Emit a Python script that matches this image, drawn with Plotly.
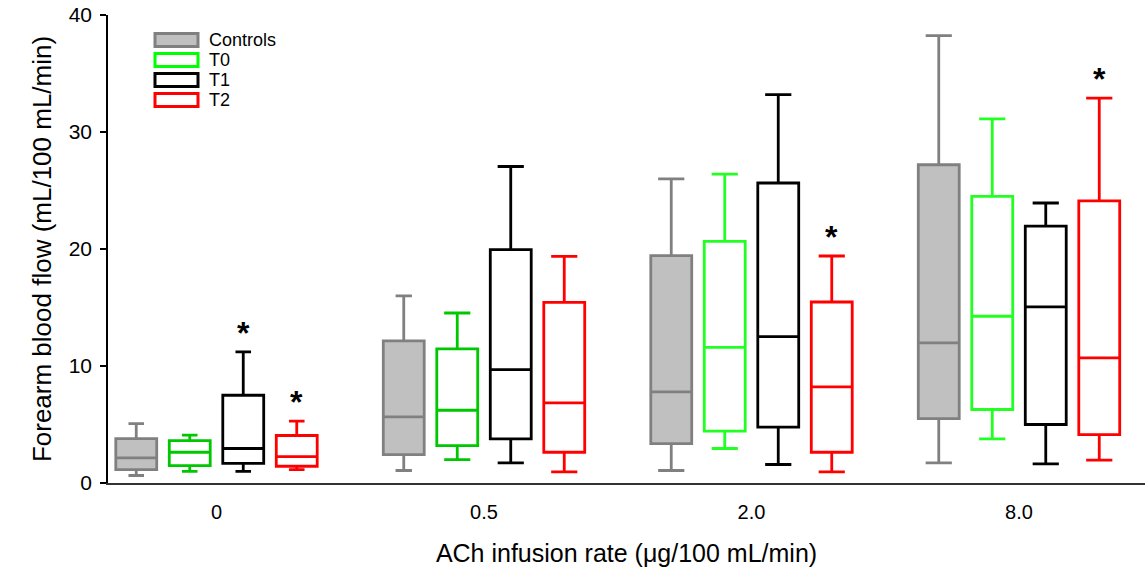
import plotly.graph_objects as go

# ACh infusion rates (x categories) and groups
rates = ["0", "0.5", "2.0", "8.0"]
groups = ["Controls", "T0", "T1", "T2"]

# Box statistics per group, one value per infusion rate
controls_low = [0.64, 1.07, 1.07, 1.72]
controls_q1 = [1.15, 2.43, 3.37, 5.51]
controls_med = [2.15, 5.65, 7.79, 11.97]
controls_q3 = [3.80, 12.14, 19.43, 27.20]
controls_high = [5.08, 16.00, 26.00, 38.24]

t0_low = [1.00, 2.00, 2.95, 3.77]
t0_q1 = [1.49, 3.20, 4.43, 6.28]
t0_med = [2.63, 6.22, 11.60, 14.25]
t0_q3 = [3.63, 11.46, 20.65, 24.50]
t0_high = [4.10, 14.53, 26.40, 31.13]

t1_low = [1.00, 1.72, 1.58, 1.64]
t1_q1 = [1.67, 3.77, 4.77, 5.00]
t1_med = [2.95, 9.69, 12.51, 15.05]
t1_q3 = [7.50, 19.94, 25.64, 21.96]
t1_high = [11.20, 27.05, 33.20, 23.93]

t2_low = [1.15, 0.95, 0.95, 1.95]
t2_q1 = [1.43, 2.63, 2.63, 4.14]
t2_med = [2.26, 6.85, 8.21, 10.69]
t2_q3 = [4.06, 15.44, 15.47, 24.12]
t2_high = [5.28, 19.37, 19.40, 32.90]

# Significance markers (*) per group and rate
t1_sig = [True, False, False, False]
t2_sig = [True, False, True, True]

stats = {
    "Controls": (controls_low, controls_q1, controls_med, controls_q3, controls_high),
    "T0": (t0_low, t0_q1, t0_med, t0_q3, t0_high),
    "T1": (t1_low, t1_q1, t1_med, t1_q3, t1_high),
    "T2": (t2_low, t2_q1, t2_med, t2_q3, t2_high),
}
sig = {"Controls": [False] * 4, "T0": [False] * 4, "T1": t1_sig, "T2": t2_sig}

line_colors = {
    "Controls": ["#808080"] * 4,
    "T0": ["#00C800", "#00C800", "#22FF22", "#22FF22"],
    "T1": ["#000000"] * 4,
    "T2": ["#FF0000"] * 4,
}
fill_colors = {"Controls": "#C0C0C0", "T0": "#FFFFFF", "T1": "#FFFFFF", "T2": "#FFFFFF"}
legend_line = {"Controls": "#808080", "T0": "#00FF00", "T1": "#000000", "T2": "#FF0000"}

offsets = [-0.3, -0.1, 0.1, 0.3]
box_w = 0.153
cap_ratio = [
    [0.38, 0.38, 0.38, 0.38],
    [0.40, 0.64, 0.64, 0.64],
    [0.64, 0.64, 0.64, 0.64],
    [0.64, 0.64, 0.64, 0.64],
]

FONT = "Liberation Sans, Arial, sans-serif"

fig = go.Figure()
annotations = []
for gi, g in enumerate(groups):
    low, q1, med, q3, high = stats[g]
    for ri in range(len(rates)):
        xpos = ri + offsets[gi]
        fig.add_trace(go.Box(
            x=[xpos], lowerfence=[low[ri]], q1=[q1[ri]], median=[med[ri]],
            q3=[q3[ri]], upperfence=[high[ri]],
            width=box_w, whiskerwidth=cap_ratio[ri][gi],
            fillcolor=fill_colors[g],
            line=dict(color=line_colors[g][ri], width=2.8),
            boxpoints=False, showlegend=False, hoverinfo="skip", name=g,
        ))
        if sig[g][ri]:
            annotations.append(dict(
                x=xpos, y=high[ri] + 2.3, xref="x", yref="y", text="<b>*</b>",
                showarrow=False, font=dict(family=FONT, size=32, color="black"),
                yshift=-8,
            ))

# Layout geometry in pixels
W, H = 1145, 571
L, R, T, B = 108, 0, 15, 88
pw, ph = W - L - R, H - T - B


def px_x(p):
    return (p - L) / pw


def px_y(p):
    return (H - B - p) / ph


# Legend drawn as outlined rectangles with labels
shapes = []
for i, g in enumerate(groups):
    cy = 40 + 20 * i
    shapes.append(dict(
        type="rect", xref="paper", yref="paper",
        x0=px_x(155), x1=px_x(198), y0=px_y(cy - 6.5), y1=px_y(cy + 6.5),
        line=dict(color=legend_line[g], width=3), fillcolor=fill_colors[g],
    ))
    annotations.append(dict(
        x=px_x(207), y=px_y(cy), xref="paper", yref="paper", text=g,
        xanchor="left", yanchor="middle", showarrow=False,
        font=dict(family=FONT, size=18, color="black"),
    ))

fig.update_layout(
    width=W, height=H,
    margin=dict(l=L, r=R, t=T, b=B),
    paper_bgcolor="white", plot_bgcolor="white",
    boxmode="overlay", showlegend=False,
    font=dict(family=FONT, color="black"),
    shapes=shapes, annotations=annotations,
    xaxis=dict(
        range=[-0.4056, 3.471], tickmode="array", tickvals=list(range(len(rates))),
        ticktext=rates, ticks="", showgrid=False, zeroline=False,
        showline=True, linecolor="#333333", linewidth=2,
        tickfont=dict(size=20), ticklabelstandoff=10,
        title=dict(text="ACh infusion rate (\u03bcg/100 mL/min)", font=dict(size=25), standoff=22),
    ),
    yaxis=dict(
        range=[0, 40], tickvals=[0, 10, 20, 30, 40], ticks="outside", ticklen=6,
        tickcolor="black", tickwidth=1.5, showgrid=False, zeroline=False,
        showline=True, linecolor="black", linewidth=1.5,
        tickfont=dict(size=21), ticklabelstandoff=4,
        title=dict(text="Forearm blood flow (mL/100 mL/min)", font=dict(size=26), standoff=10),
    ),
)

fig.write_html("out.html")
